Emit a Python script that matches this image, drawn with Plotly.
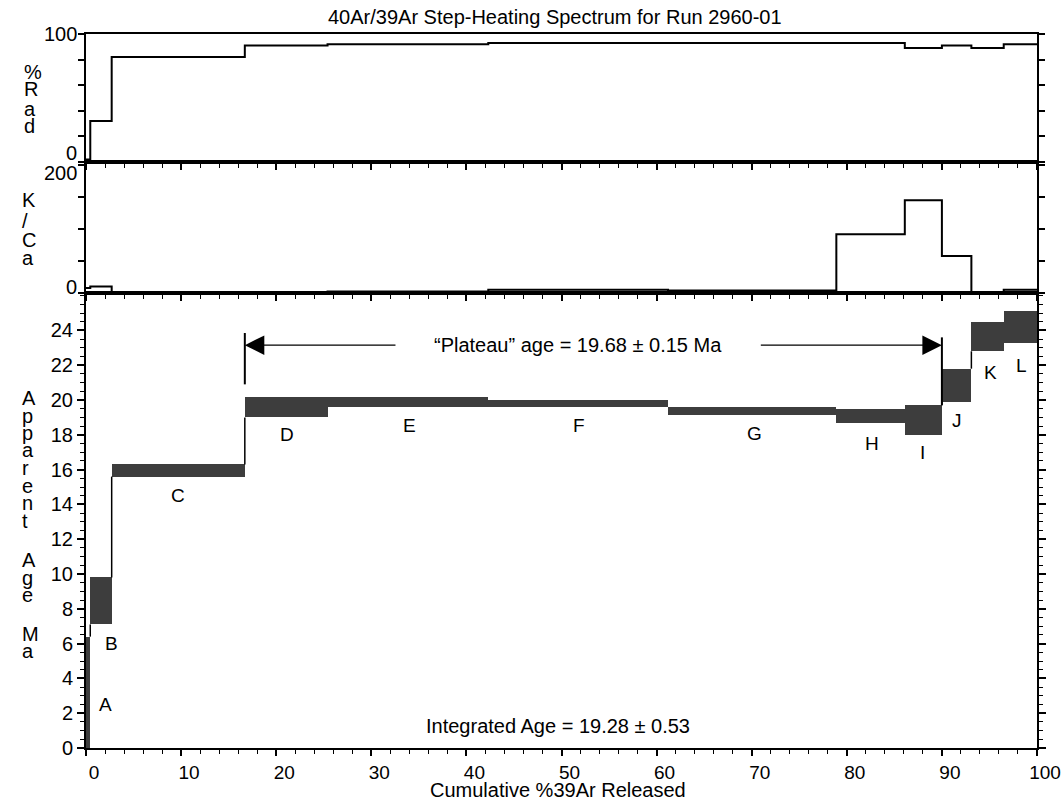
import plotly.graph_objects as go

# ---------------- data ----------------
steps = ["A", "B", "C", "D", "E", "F", "G", "H", "I", "J", "K", "L"]
cum39 = [0.0, 0.45, 2.7, 16.7, 25.4, 42.3, 61.2, 78.9, 86.1, 90.0, 93.1, 96.5, 100.0]
age_lo = [0.0, 7.1, 15.6, 19.0, 19.6, 19.6, 19.15, 18.7, 18.0, 19.9, 22.8, 23.3]
age_hi = [6.4, 9.8, 16.3, 20.2, 20.15, 20.0, 19.6, 19.5, 19.7, 21.8, 24.5, 25.1]
pct_rad = [2, 32, 82, 91, 92, 93, 93, 93, 89, 91, 89, 92]
k_ca = [8, 10, 1, 1, 2.5, 5, 4, 92, 145, 58, 0, 5]
plateau_first, plateau_last = 3, 8   # steps D..I
plateau_text = "\u201cPlateau\u201d age = 19.68 \u00b1 0.15 Ma"
integrated_text = "Integrated Age = 19.28 \u00b1 0.53"
age_ticks = list(range(0, 25, 2))
x_ticks = list(range(0, 101, 10))

# ---------------- layout geometry ----------------
W, H = 1061, 800
ML, MR, MT, MB = 86, 24, 34, 52
PH = H - MT - MB
PW = W - ML - MR
FONT = "Liberation Sans, Arial, sans-serif"
FS = 20

def py(px):  # pixel y -> paper
    return (H - MB - px) / PH

def pxx(px):  # pixel x -> paper
    return (px - ML) / PW

d_main = [0, py(293)]
d_kca = [py(293), py(162)]
d_rad = [py(162), 1]

fig = go.Figure()

# age boxes
mids = [(cum39[i] + cum39[i + 1]) / 2 for i in range(len(steps))]
widths = [cum39[i + 1] - cum39[i] for i in range(len(steps))]
fig.add_trace(go.Bar(
    x=mids, y=[h - l for h, l in zip(age_hi, age_lo)], base=age_lo, width=widths,
    marker=dict(color="#3d3d3d", line=dict(width=0)),
    xaxis="x", yaxis="y", showlegend=False, hoverinfo="skip"))

# connectors between boxes
cx, cy = [], []
for i in range(len(steps) - 1):
    b = cum39[i + 1]
    if age_hi[i] < age_lo[i + 1]:
        cx += [b, b, None]
        cy += [age_hi[i], age_lo[i + 1], None]
    elif age_lo[i] > age_hi[i + 1]:
        cx += [b, b, None]
        cy += [age_hi[i + 1], age_lo[i], None]
fig.add_trace(go.Scatter(x=cx, y=cy, mode="lines", line=dict(color="black", width=1.5),
                         xaxis="x", yaxis="y", showlegend=False, hoverinfo="skip"))

# plateau bounds
xs = cum39[plateau_first]
xe = cum39[plateau_last + 1]
fig.add_trace(go.Scatter(x=[xs, xs, None, xe, xe], y=[20.9, 23.85, None, age_hi[plateau_last], 23.6],
                         mode="lines", line=dict(color="black", width=2),
                         xaxis="x", yaxis="y", showlegend=False, hoverinfo="skip"))

# %Rad step
fig.add_trace(go.Scatter(x=cum39, y=pct_rad + [pct_rad[-1]], mode="lines", line_shape="hv",
                         line=dict(color="black", width=2), xaxis="x3", yaxis="y3",
                         showlegend=False, hoverinfo="skip"))
# K/Ca step
fig.add_trace(go.Scatter(x=cum39, y=k_ca + [k_ca[-1]], mode="lines", line_shape="hv",
                         line=dict(color="black", width=2), xaxis="x2", yaxis="y2",
                         showlegend=False, hoverinfo="skip"))

axis_common = dict(showline=True, linecolor="black", linewidth=2, showgrid=False,
                   zeroline=False, ticks="outside", tickcolor="black", automargin=False,
                   tickfont=dict(family=FONT, size=FS, color="black"))

xcommon = dict(axis_common, range=[0, 100], tickvals=x_ticks, ticklen=6, tickwidth=1.5,
               minor=dict(dtick=2, ticks="outside", ticklen=4, tickcolor="black", tickwidth=1),
               mirror=True)

fig.update_layout(
    width=W, height=H,
    margin=dict(l=ML, r=MR, t=MT, b=MB, autoexpand=False),
    paper_bgcolor="white", plot_bgcolor="white",
    font=dict(family=FONT, size=FS, color="black"),
    xaxis=dict(xcommon, anchor="y", ticklabelshift=8, ticklabelstandoff=0,
               ticklabeloverflow="allow", tickfont=dict(family=FONT, size=19, color="black")),
    xaxis2=dict(xcommon, anchor="y2", matches="x", showticklabels=False),
    xaxis3=dict(xcommon, anchor="y3", matches="x", showticklabels=False),
    yaxis=dict(axis_common, domain=d_main, range=[0, 26.15], tickvals=age_ticks,
               ticklen=7, tickwidth=1.5, mirror="ticks",
               minor=dict(dtick=0.5, ticks="outside", ticklen=4, tickcolor="black", tickwidth=1)),
    yaxis2=dict(axis_common, domain=d_kca, range=[0, 205], tickvals=[0, 50, 100, 150, 200],
                ticklen=6, tickwidth=1.5, mirror="ticks", showticklabels=False),
    yaxis3=dict(axis_common, domain=d_rad, range=[0, 100], tickvals=[0, 20, 40, 60, 80, 100],
                ticklen=6, tickwidth=1.5, mirror="ticks", showticklabels=False),
    bargap=0,
)

ann = []
def text(x, y, s, xref="paper", yref="paper", size=FS, **kw):
    ann.append(dict(x=x, y=y, xref=xref, yref=yref, text=s, showarrow=False,
                    font=dict(family=FONT, size=size, color="black"), **kw))

# title and axis title
text(pxx(555), py(17), "40Ar/39Ar Step-Heating Spectrum for Run 2960-01", yanchor="middle")
text(pxx(558), py(790), "Cumulative %39Ar Released", size=20, yanchor="middle")

# panel tick labels
text(pxx(79), py(34), "100", xanchor="right", yanchor="middle")
text(pxx(79), py(153), "0", xanchor="right", yanchor="middle")
text(pxx(79), py(173), "200", xanchor="right", yanchor="middle")
text(pxx(79), py(287), "0", xanchor="right", yanchor="middle")

# stacked y titles
for ch, y in zip(["%", "R", "a", "d"], [72, 89, 109, 126]):
    text(pxx(22), py(y), ch, yanchor="middle")
for ch, y in zip(["K", "/", "C", "a"], [200, 221, 240, 258]):
    text(pxx(20), py(y), ch, yanchor="middle")
app = list("Apparent")
for i, ch in enumerate(app):
    text(pxx(20), py(398 + i * 17.5), ch, yanchor="middle")
for ch, y in zip(["A", "g", "e"], [560, 578, 595]):
    text(pxx(20), py(y), ch, yanchor="middle")
for ch, y in zip(["M", "a"], [634, 651]):
    text(pxx(20), py(y), ch, yanchor="middle")

# step letters
label_pos = [(1.2, 2.5), (1.8, 6.0), (9.7, 14.5), (21.1, 18.0), (34.0, 18.55), (51.8, 18.55),
             (70.3, 18.1), (82.6, 17.5), (88.0, 17.0), (91.6, 18.8), (95.1, 21.6), (98.4, 22.0)]
for s, (x, y) in zip(steps, label_pos):
    text(x, y, s, xref="x", yref="y", size=19, xanchor="center" if s not in "AB" else "left",
         yanchor="middle")

# plateau annotation
text(51.7, 23.15, plateau_text, xref="x", yref="y", yanchor="middle")
text(49.6, 1.25, integrated_text, xref="x", yref="y", yanchor="middle")

# arrows
for tip, tail in [(xs, 32.7), (xe, 70.8)]:
    ann.append(dict(x=tip, y=23.15, ax=tail, ay=23.15, xref="x", yref="y", axref="x", ayref="y",
                    text="", showarrow=True, arrowhead=2, arrowsize=3, arrowwidth=1.3,
                    arrowcolor="black", standoff=0))

fig.update_layout(annotations=ann)
fig.write_html("out.html", config={"displayModeBar": False},
               post_script="document.body.style.margin='0';document.body.style.padding='0';")
